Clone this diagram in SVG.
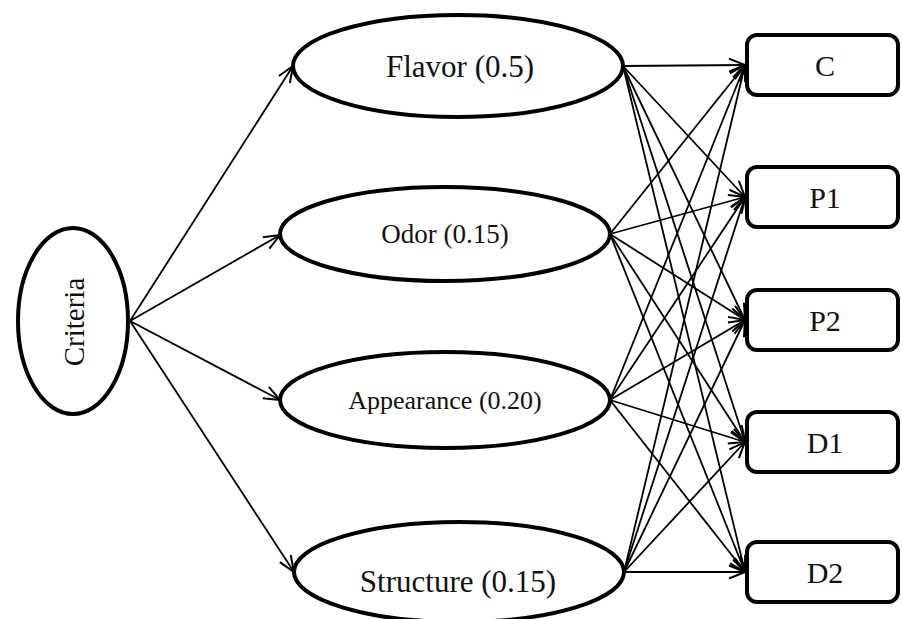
<svg xmlns="http://www.w3.org/2000/svg" width="902" height="619" viewBox="0 0 902 619">
<style>
.node{fill:#fff;stroke:#000;stroke-width:4}
.lbl{font-family:"Liberation Serif","Times New Roman",serif;fill:#111;text-anchor:middle}
.edge{stroke:#000;stroke-width:1.8;fill:none;marker-end:url(#arr)}
</style>
<defs>
<marker id="arr" markerUnits="userSpaceOnUse" markerWidth="20" markerHeight="16" viewBox="0 0 20 16" refX="17" refY="8" orient="auto">
<path d="M1,1.5 L17,8 L1,14.5" fill="none" stroke="#000" stroke-width="2"/>
</marker>
</defs>
<rect width="902" height="619" fill="#fff"/>
<g id="connectors">
<line class="edge" x1="130" y1="321" x2="293" y2="66"/>
<line class="edge" x1="130" y1="321" x2="280" y2="235"/>
<line class="edge" x1="130" y1="321" x2="280" y2="400"/>
<line class="edge" x1="130" y1="321" x2="294" y2="572"/>
<line class="edge" x1="623" y1="66" x2="745" y2="65"/>
<line class="edge" x1="623" y1="66" x2="745" y2="197"/>
<line class="edge" x1="623" y1="66" x2="745" y2="320"/>
<line class="edge" x1="623" y1="66" x2="745" y2="442"/>
<line class="edge" x1="623" y1="66" x2="745" y2="572"/>
<line class="edge" x1="610" y1="234" x2="745" y2="65"/>
<line class="edge" x1="610" y1="234" x2="745" y2="197"/>
<line class="edge" x1="610" y1="234" x2="745" y2="320"/>
<line class="edge" x1="610" y1="234" x2="745" y2="442"/>
<line class="edge" x1="610" y1="234" x2="745" y2="572"/>
<line class="edge" x1="610" y1="400" x2="745" y2="65"/>
<line class="edge" x1="610" y1="400" x2="745" y2="197"/>
<line class="edge" x1="610" y1="400" x2="745" y2="320"/>
<line class="edge" x1="610" y1="400" x2="745" y2="442"/>
<line class="edge" x1="610" y1="400" x2="745" y2="572"/>
<line class="edge" x1="624" y1="572" x2="745" y2="65"/>
<line class="edge" x1="624" y1="572" x2="745" y2="197"/>
<line class="edge" x1="624" y1="572" x2="745" y2="320"/>
<line class="edge" x1="624" y1="572" x2="745" y2="442"/>
<line class="edge" x1="624" y1="572" x2="745" y2="572"/>
</g>
<g id="criteria">
<ellipse class="node" cx="73" cy="321" rx="55" ry="93"/>
<text class="lbl" font-size="29" transform="translate(84,322) rotate(-90)" x="0" y="0">Criteria</text>
</g>
<g id="flavor">
<ellipse class="node" cx="458" cy="66" rx="165" ry="51"/>
<text class="lbl" font-size="31" x="460" y="77">Flavor (0.5)</text>
</g>
<g id="odor">
<ellipse class="node" cx="445" cy="234" rx="165" ry="47"/>
<text class="lbl" font-size="27" x="445" y="243">Odor (0.15)</text>
</g>
<g id="appearance">
<ellipse class="node" cx="445" cy="400" rx="165" ry="48"/>
<text class="lbl" font-size="26" x="445" y="409">Appearance (0.20)</text>
</g>
<g id="structure">
<ellipse class="node" cx="459" cy="572" rx="165" ry="50"/>
<text class="lbl" font-size="31" x="458" y="592">Structure (0.15)</text>
</g>
<g id="C">
<rect class="node" x="747" y="35" width="151" height="60" rx="10"/>
<text class="lbl" font-size="30" x="825" y="76">C</text>
</g>
<g id="P1">
<rect class="node" x="747" y="167" width="151" height="60" rx="10"/>
<text class="lbl" font-size="30" x="825" y="208">P1</text>
</g>
<g id="P2">
<rect class="node" x="747" y="290" width="151" height="60" rx="10"/>
<text class="lbl" font-size="30" x="825" y="331">P2</text>
</g>
<g id="D1">
<rect class="node" x="747" y="412" width="151" height="60" rx="10"/>
<text class="lbl" font-size="30" x="825" y="453">D1</text>
</g>
<g id="D2">
<rect class="node" x="747" y="542" width="151" height="60" rx="10"/>
<text class="lbl" font-size="30" x="825" y="583">D2</text>
</g>
</svg>
